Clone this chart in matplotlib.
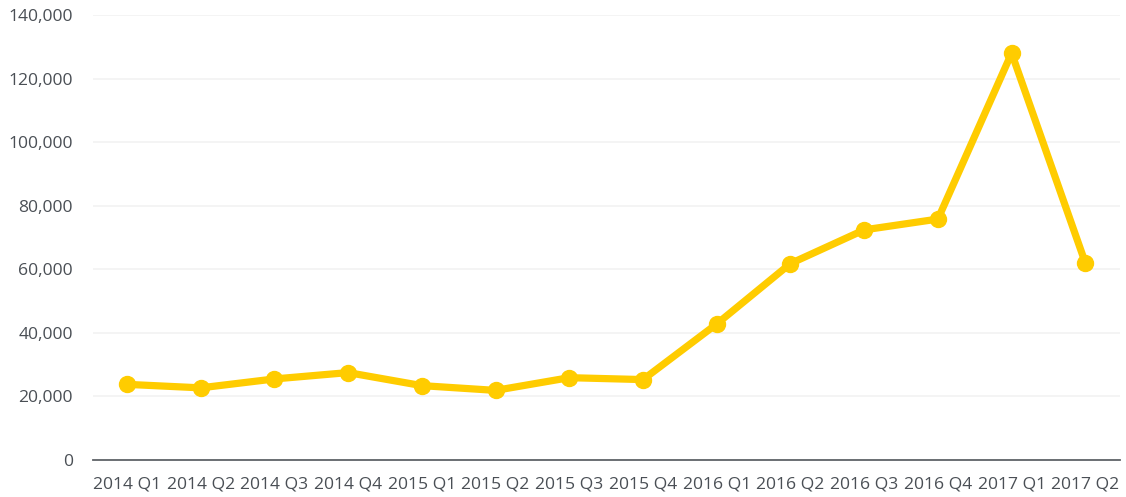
import matplotlib
matplotlib.use("Agg")
import matplotlib.pyplot as plt
from matplotlib.ticker import FuncFormatter

quarters = ["2014 Q1", "2014 Q2", "2014 Q3", "2014 Q4",
            "2015 Q1", "2015 Q2", "2015 Q3", "2015 Q4",
            "2016 Q1", "2016 Q2", "2016 Q3", "2016 Q4",
            "2017 Q1", "2017 Q2"]
values = [23800, 22700, 25500, 27500,
          23400, 21900, 25900, 25300,
          42800, 61800, 72400, 75800,
          128000, 62000]
y_ticks = [0, 20000, 40000, 60000, 80000, 100000, 120000, 140000]

plt.rcParams['font.family'] = ['Open Sans', 'DejaVu Sans']
text_color = "#4a4f55"

fig = plt.figure(figsize=(11.26, 4.97), dpi=100)
ax = fig.add_axes([93 / 1126, 1 - 460 / 497, (1120 - 93) / 1126, (460 - 15) / 497])

x = range(len(quarters))
ax.plot(x, values, color="#ffcc00", lw=5.2, marker="o", markersize=11.5,
        solid_joinstyle="round", solid_capstyle="round", zorder=3, clip_on=False)

ax.set_xlim(-0.46, len(quarters) - 0.53)
ax.set_ylim(0, 140000)
ax.set_yticks(y_ticks)
ax.yaxis.set_major_formatter(FuncFormatter(lambda v, p: f"{int(v):,}"))
ax.set_xticks(list(x))
ax.set_xticklabels(quarters)

ax.grid(axis="y", color="#f2f2f2", lw=1.2)
ax.set_axisbelow(True)
for side in ["top", "right", "left"]:
    ax.spines[side].set_visible(False)
ax.spines["bottom"].set_color("#5f6368")
ax.spines["bottom"].set_linewidth(1.3)
ax.tick_params(axis="both", length=0, labelsize=12.6, colors=text_color)
ax.tick_params(axis="y", pad=14.5)
ax.tick_params(axis="x", pad=12)

fig.savefig("out.png", dpi=100)
